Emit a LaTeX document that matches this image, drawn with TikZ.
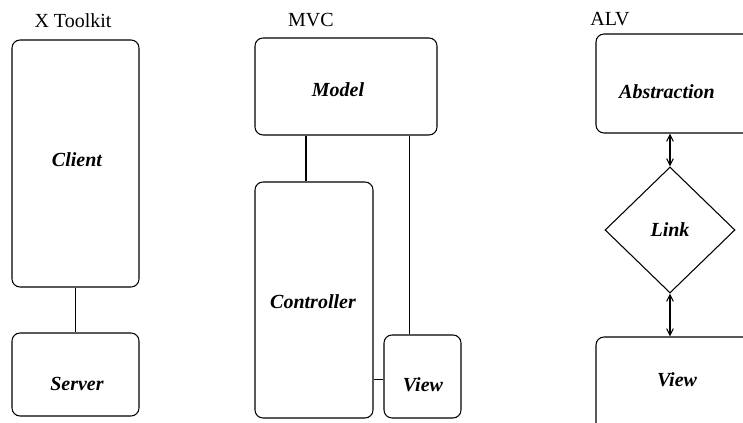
\documentclass[tikz,border=0pt]{standalone}
\usepackage{fontspec}
\setmainfont{Liberation Serif}
\usetikzlibrary{shapes.geometric,arrows.meta}
\tikzset{
  box/.style={draw, line width=0.8pt, rounded corners=6pt, inner sep=0pt},
  lbl/.style={font=\fontsize{15}{18}\selectfont\bfseries\itshape, inner sep=0pt},
  ttl/.style={font=\fontsize{15}{18}\selectfont, inner sep=0pt},
  conn/.style={line width=0.8pt},
  dbl/.style={line width=0.8pt, {Straight Barb[length=5pt,width=5pt]}-{Straight Barb[length=5pt,width=5pt]}}
}
\begin{document}
\begin{tikzpicture}[x=0.75pt,y=-0.75pt]
\useasboundingbox (0,0) rectangle (743,423);
\clip (0,0) rectangle (743,423);
% X Toolkit
\node[ttl] (t1) at (73,21) {X Toolkit};
\node[box, minimum width=95.25pt, minimum height=185.25pt] (client) at (75.5,163.5) {};
\node[lbl] (clientl) at (77,160) {Client};
\node[box, minimum width=95.25pt, minimum height=62.25pt] (server) at (75.5,374.5) {};
\node[lbl] (serverl) at (77,384) {Server};
\draw[conn] (client.south) -- (server.north);
% MVC
\node[ttl] (t2) at (311,20) {MVC};
\node[box, minimum width=136.5pt, minimum height=72.75pt] (model) at (346,86.5) {};
\node[lbl] (modell) at (338,90) {Model};
\node[box, minimum width=88.5pt, minimum height=177pt] (ctrl) at (314,300) {};
\node[lbl] (ctrll) at (313,302) {Controller};
\node[box, minimum width=57.75pt, minimum height=62.25pt] (view) at (422.5,376.5) {};
\node[lbl] (viewl) at (423,385) {View};
\draw[conn] ([xshift=-6pt]ctrl.north) -- ([xshift=-6pt]ctrl.north |- model.south);
\draw[conn] ([xshift=-10pt]view.north) -- ([xshift=-10pt]view.north |- model.south);
\draw[conn] ([yshift=-2.6pt]view.west) -- ([yshift=-2.6pt]view.west -| ctrl.east);
% ALV
\node[ttl] (t3) at (610,19) {ALV};
\node[box, minimum width=138pt, minimum height=74.25pt] (abs) at (688,83.5) {};
\node[lbl] (absl) at (667,92) {Abstraction};
\node[draw, line width=0.8pt, diamond, inner sep=0pt, minimum width=97.5pt, minimum height=94.5pt] (link) at (670,230) {};
\node[lbl] (linkl) at (670,230) {Link};
\node[box, minimum width=138pt, minimum height=77.25pt] (alvview) at (688,388.5) {};
\node[lbl] (alvviewl) at (677,380) {View};
\draw[dbl] (link.north) -- (link.north |- abs.south);
\draw[dbl] (link.south) -- (link.south |- alvview.north);
\end{tikzpicture}
\end{document}
